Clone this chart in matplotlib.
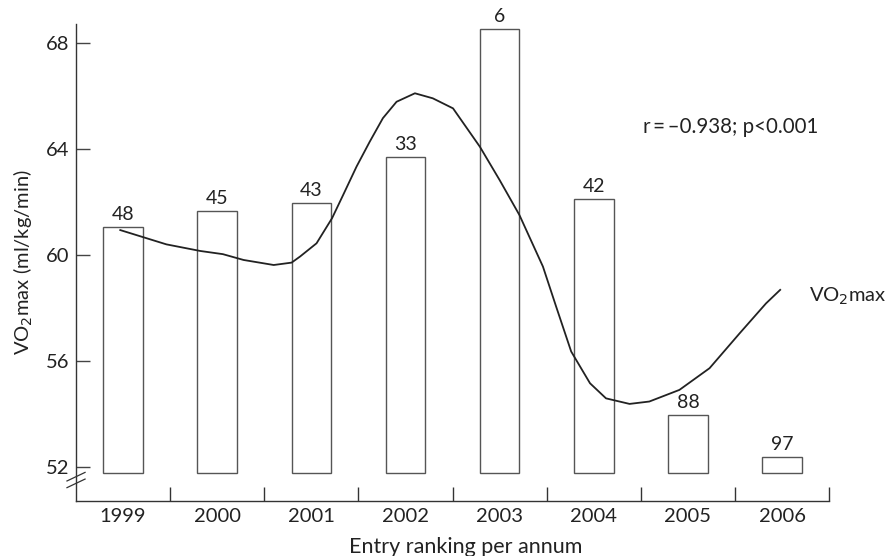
import numpy as np
import matplotlib.pyplot as plt

plt.rcParams['font.family'] = ['Lato', 'DejaVu Sans']

years = ['1999', '2000', '2001', '2002', '2003', '2004', '2005', '2006']
bar_tops = [61.07, 61.65, 61.95, 63.71, 68.55, 62.10, 53.95, 52.35]
rankings = ['48', '45', '43', '33', '6', '42', '88', '97']
bar_base = 51.77

# VO2max trend curve (category position, value)
curve_x = [-0.03, 0.46, 0.82, 1.06, 1.28, 1.6, 1.79, 1.88, 2.055, 2.22, 2.338, 2.48,
           2.62, 2.76, 2.905, 3.1, 3.29, 3.505, 3.79, 4.0, 4.21, 4.46, 4.6,
           4.76, 4.96, 5.13, 5.38, 5.59, 5.91, 6.23, 6.55, 6.83, 6.98]
curve_y = [60.94, 60.4, 60.15, 60.03, 59.81, 59.62, 59.71, 59.94, 60.44, 61.39, 62.27, 63.34,
           64.28, 65.17, 65.79, 66.11, 65.92, 65.54, 64.09, 62.83, 61.51, 59.56, 58.05,
           56.35, 55.15, 54.58, 54.37, 54.46, 54.9, 55.72, 57.04, 58.17, 58.68]

fig = plt.figure(figsize=(8.86, 5.56), dpi=100)
ax = fig.add_axes([0.0858, 0.0989, 0.850, 0.858])

x = np.arange(len(years))
heights = [t - bar_base for t in bar_tops]
ax.bar(x, heights, bottom=bar_base, width=0.42, facecolor='white',
       edgecolor='#555555', linewidth=1.0, zorder=2)
for xi, top, lab in zip(x, bar_tops, rankings):
    ax.text(xi, top + 0.15, lab, ha='center', va='bottom', fontsize=14, color='#222222')

ax.plot(curve_x, curve_y, color='#222222', linewidth=1.3, zorder=3,
        solid_joinstyle='round')

ax.set_xlim(-0.5, 7.5)
ax.set_ylim(50.70, 68.73)
ax.set_yticks([52, 56, 60, 64, 68])
ax.set_xticks(x)
ax.set_xticklabels(years)
ax.set_xticks(np.arange(0.5, 8, 1), minor=True)
ax.tick_params(axis='x', which='major', length=0, pad=5, labelsize=14.5, labelcolor='#222222')
ax.tick_params(axis='x', which='minor', direction='in', length=10, width=1, color='#333333')
ax.tick_params(axis='y', direction='in', length=10, width=1, color='#444444', pad=5,
               labelsize=14.5, labelcolor='#222222')

for s in ['top', 'right']:
    ax.spines[s].set_visible(False)
for s in ['left', 'bottom']:
    ax.spines[s].set_color('#333333')
    ax.spines[s].set_linewidth(1.0)

# axis break mark
for dy in [0.0, 0.014]:
    ax.plot([-0.012, 0.012], [0.028 + dy, 0.046 + dy], transform=ax.transAxes,
            color='#333333', linewidth=0.9, clip_on=False)

ax.set_ylabel('VO$_2$max (ml/kg/min)', fontsize=14.5, color='#222222')
ax.yaxis.set_label_coords(-0.055, 0.5)
ax.set_xlabel('Entry ranking per annum', fontsize=15.5, color='#222222')
ax.xaxis.set_label_coords(0.518, -0.075)

ax.text(5.52, 64.84, 'r\u2009=\u2009\u20130.938; p<0.001', fontsize=14.8, va='center', ha='left',
        color='#222222')
ax.text(7.29, 58.45, 'VO$_2$max', fontsize=14.5, va='center', ha='left', color='#222222')

fig.savefig('out.png', dpi=100)
